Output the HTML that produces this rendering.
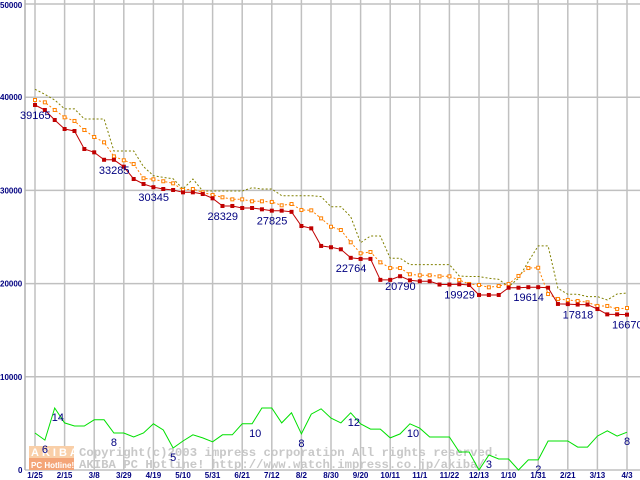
<!DOCTYPE html>
<html><head><meta charset="utf-8"><style>
html,body{margin:0;padding:0;background:#fff;width:640px;height:480px;overflow:hidden}
svg{display:block}
</style></head><body>
<svg id="chart" width="640" height="480" xmlns="http://www.w3.org/2000/svg" font-family="Liberation Sans, sans-serif">
<g id="grid"></g>
<g id="watermark">
  <rect x="29" y="446" width="45" height="12" fill="#f9cfa8"/>
  <rect x="29" y="458" width="45" height="12" fill="#f4a578"/>
  <text x="31" y="456" font-size="11" font-weight="bold" fill="#fff" letter-spacing="3">AKIBA</text>
  <text x="31" y="468" font-size="8" font-weight="bold" fill="#fff">PC Hotline!</text>
  <text x="79" y="456" font-family="Liberation Mono, monospace" font-size="12.3" font-weight="bold" fill="#c8c8c8">Copyright(c)2003 impress corporation All rights reserved.</text>
  <text x="79" y="468" font-family="Liberation Mono, monospace" font-size="12.3" font-weight="bold" fill="#c8c8c8">AKIBA PC Hotline!  http://www.watch.impress.co.jp/akiba/</text>
</g>
<g id="series"></g>
<g id="labels"></g>
</svg>
<script>
const xTickLabels=["1/25","2/15","3/8","3/29","4/19","5/10","5/31","6/21","7/12","8/2","8/30","9/20","10/11","11/1","11/22","12/13","1/10","1/31","2/21","3/13","4/3"];
const yTicks=[0,10000,20000,30000,40000,50000];
const minPrice=[39165,38627,37554,36588,36373,34442,34084,33285,33285,32546,31223,30687,30345,30150,30043,29793,29793,29614,29150,28329,28329,28112,28112,27970,27825,27825,27700,26180,25930,24040,23900,23680,22764,22650,22650,20400,20400,20790,20350,20250,20250,19900,19900,19929,19850,18780,18780,18780,19560,19560,19614,19614,19560,17818,17800,17750,17750,17270,16700,16700,16670];
const avgPrice=[39700,39450,38630,37840,37450,36480,35730,35160,33650,33230,32830,31300,31190,30980,30760,30040,30150,29790,29510,29260,29040,29040,28830,28830,28760,28400,28540,27900,27860,27000,26100,25750,24430,23250,23390,22280,21670,21670,21000,20890,20890,20780,20780,20390,19960,19850,19600,19740,19960,20820,21670,21700,18880,18350,18240,18130,17990,17600,17600,17270,17380];
const maxPrice=[40850,40310,39700,38740,38740,37660,37660,37660,34230,34230,34230,32550,31580,31400,31260,30150,31220,29940,29940,29940,29940,29940,30290,30150,30150,29430,29430,29430,29430,29330,28250,28250,27180,24390,25110,25110,22720,22720,22040,22040,22040,22040,22040,20820,20760,20760,20570,20460,19670,20570,22350,24040,24040,19500,18850,18850,18600,18600,18240,18880,18990];
const shopCount=[8.4,6.8,14.1,10.7,10,10,11.4,11.4,8.4,8.4,7.5,8.4,10.5,9.1,5,6.6,8,7.3,6.4,8,8,10.5,10.5,14.1,14.1,10.7,13,8.2,12.7,13.9,11.8,10.7,13,10.5,9.3,9.3,7.3,8.2,10.5,9.5,7.5,7.5,7.5,4.1,4.1,0,3.4,2.5,2.5,0,2.3,2.3,6.6,6.6,6.6,5.2,5.2,7.7,8.9,7.7,8.6];
const priceLabelIdx=[0,8,12,19,24,32,37,43,50,55,60];
const priceLabelText=["39165","33285","30345","28329","27825","22764","20790","19929","19614","17818","16670"];
const countLabelIdx=[1,2,8,14,22,27,32,38,46,51,60];
const countLabelText=["6","14","8","5","10","8","12","10","3","2","8"];

const NS="http://www.w3.org/2000/svg";
const X0=35,STEP=(627-35)/60,YB=470,YT=4;
function xs(i){return X0+i*STEP;}
function ys(v){return YB-(v/50000)*(YB-YT);}
function yc(c){return YB-c*4.4;}
function mk(tag,attrs,parent){const e=document.createElementNS(NS,tag);for(const k in attrs)e.setAttribute(k,attrs[k]);parent.appendChild(e);return e;}
const grid=document.getElementById('grid'),series=document.getElementById('series'),labels=document.getElementById('labels');
yTicks.forEach(v=>{
  const l=mk('line',{x1:25,x2:640,y1:ys(v),y2:ys(v),stroke:'#c0c0c0','stroke-width':1.5},grid);
  
  
  const t=mk('text',{x:v===0?18:0,y:ys(v)+(v===50000?4:3),'font-size':8,'font-weight':'bold',fill:'#000080'},grid);
  t.textContent=String(v);
  
  
});
xTickLabels.forEach((s,k)=>{
  const x=X0+k*3*STEP;
  const l=mk('line',{x1:x,x2:x,y1:0,y2:YB,stroke:'#c0c0c0','stroke-width':1.5},grid);
  
  
  const t=mk('text',{x:x,y:478,'font-size':8,'font-weight':'bold',fill:'#000080','text-anchor':'middle'},grid);
  t.textContent=s;
  
  
});
const ax=mk('line',{x1:25,x2:25,y1:0,y2:YB,stroke:'#b0b0b0','stroke-width':1.5},grid);


function pts(arr,f){return arr.map((v,i)=>xs(i).toFixed(1)+','+f(v).toFixed(1)).join(' ');}
const gl=mk('polyline',{points:pts(shopCount,yc),fill:'none',stroke:'#00e000','stroke-width':1},series);


const ml=mk('polyline',{points:pts(maxPrice,ys),fill:'none',stroke:'#808000','stroke-width':1,'stroke-dasharray':'2,2'},series);


const al=mk('polyline',{points:pts(avgPrice,ys),fill:'none',stroke:'#ff8000','stroke-width':1,'stroke-dasharray':'2,2'},series);


avgPrice.forEach((v,i)=>{
  const r=mk('rect',{x:xs(i)-1.5,y:ys(v)-1.5,width:3,height:3,fill:'#fff',stroke:'#ff8000','stroke-width':1},series);
  
  
});
const rl=mk('polyline',{points:pts(minPrice,ys),fill:'none',stroke:'#c00000','stroke-width':1},series);


minPrice.forEach((v,i)=>{
  const r=mk('rect',{x:xs(i)-2,y:ys(v)-2,width:4,height:4,fill:'#c00000'},series);
  
  
});
priceLabelIdx.forEach((i,k)=>{
  const t=mk('text',{x:xs(i)-15,y:ys(minPrice[i])+14,'font-size':11,fill:'#000080'},labels);
  t.textContent=priceLabelText[k];
  
  
});
countLabelIdx.forEach((i,k)=>{
  const t=mk('text',{x:xs(i)-3,y:yc(shopCount[i])+13,'font-size':11,fill:'#000080'},labels);
  t.textContent=countLabelText[k];
  
  
});
</script>
</body></html>
